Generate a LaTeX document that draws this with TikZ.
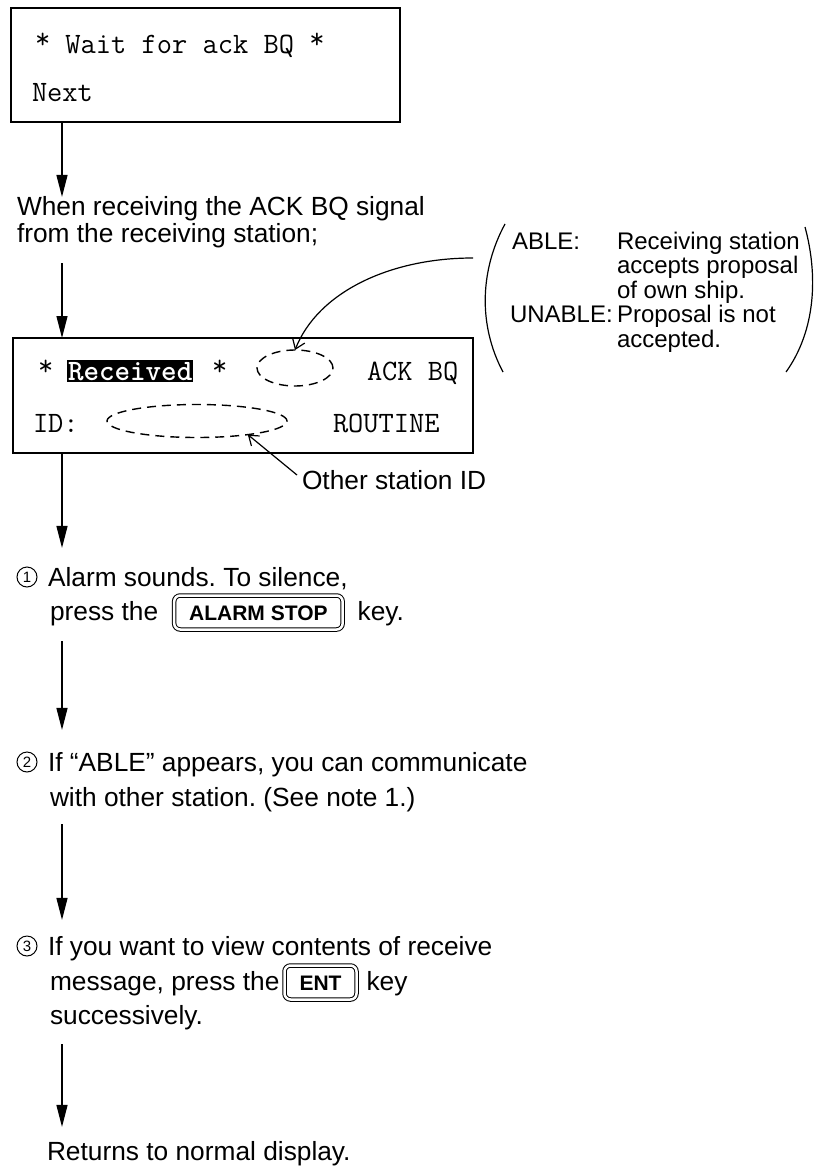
\documentclass[tikz,border=0pt]{standalone}
\usepackage{fontspec}
\setmainfont{Liberation Sans}
\usetikzlibrary{arrows.meta,shapes.geometric,calc}
\frenchspacing
\newcommand\hiast{\raisebox{5pt}{*}}

\tikzset{
  every node/.style={inner sep=0pt, outer sep=0pt},
  txt/.style={anchor=base west, font=\fontsize{26.3}{26.3}\selectfont},
  smalltxt/.style={anchor=base west, font=\fontsize{24}{24}\selectfont},
  mono/.style={anchor=base west, font=\ttfamily\fontsize{29.6}{29.6}\selectfont},
  screen/.style={draw, line width=1.4pt, anchor=north west},
  flow/.style={line width=1.3pt, -{Triangle[length=22pt,width=11pt]}},
  pointer/.style={line width=1.2pt, -{Straight Barb[length=9pt,width=13pt]}},
  dashell/.style={draw, ellipse, dash pattern=on 9pt off 6pt, line width=1.4pt},
  keycap/.style={draw, double, double distance=2.5pt, line width=1pt, rounded corners=6pt,
    anchor=base west, font=\bfseries\fontsize{21}{21}\selectfont,
    text height=15pt, text depth=0pt, inner xsep=15pt, inner ysep=9.5pt},
  circnum/.style={draw, circle, line width=1pt, minimum size=20pt, font=\fontsize{15}{15}\selectfont},
  parenline/.style={line width=1.2pt},
}

\begin{document}
\begin{tikzpicture}[x=1pt,y=-1pt]
\useasboundingbox (0,0) rectangle (815,1169);
\coordinate (col) at (62,0);

% first screen
\node[screen, minimum width=389pt, minimum height=114pt] (box1) at (11,8) {};
\node[mono] (wait) at (35,54) {\hiast{} Wait for ack BQ \hiast};
\node[mono] (next) at (32,102) {Next};

\node[txt] (when1) at (17,215) {When receiving the ACK BQ signal};
\node[txt] (when2) at (17,242) {from the receiving station;};
\draw[flow] (box1.south -| col) -- ($(when1.north -| col)+(0,1)$);

% second screen
\node[screen, minimum width=460pt, minimum height=115pt] (box2) at (13,338) {};
\draw[flow, shorten <=16pt] (when2.south -| col) -- (box2.north -| col);

\node[mono] (st1) at (38,380) {\hiast};
\node[mono, fill=black, text=white, font=\ttfamily\bfseries\fontsize{29.6}{29.6}\selectfont,
      inner xsep=1pt, inner ysep=2pt] (recv) at (67,380) {Received};
\node[mono] (st2) at (212,380) {\hiast};
\node[dashell, minimum width=76pt, minimum height=36pt] (e1) at (295,368) {};
\node[mono] (ack) at (367,380) {ACK BQ};
\node[mono] (idl) at (33,432) {ID:};
\node[dashell, minimum width=180pt, minimum height=33pt] (e2) at (197,421) {};
\node[mono] (routine) at (333,432) {ROUTINE};

% legend in parentheses
\node[smalltxt] (able) at (512,249) {ABLE:};
\node[smalltxt] (l1) at (617,249) {Receiving station};
\node[smalltxt] (l2) at (617,273.5) {accepts proposal};
\node[smalltxt] (l3) at (617,298) {of own ship.};
\node[smalltxt] (unable) at (510,322.5) {UNABLE:};
\node[smalltxt] (l4) at (617,322.5) {Proposal is not};
\node[smalltxt] (l5) at (617,347) {accepted.};
\draw[parenline] (505,224) .. controls (480,270) and (478,325) .. (503,372);
\draw[parenline] (805,227) .. controls (818,275) and (816,330) .. (786,372);

\coordinate (cs) at (473,258);
\draw[pointer] (cs) .. controls (390,258) and (318,292) .. (e1.north);

% other station ID
\node[txt] (other) at (302,489) {Other station ID};
\coordinate (os) at (297,475);
\draw[pointer] (os) -- (e2.-15);

% step 1
\node[circnum] (c1) at (27,577) {1};
\node[txt] (s1a) at (48,586) {Alarm sounds. To silence,};
\node[txt] (s1b) at (50,620) {press the};
\node[keycap] (k1) at ($(s1b.base east)+(16,0)$) {ALARM STOP};
\node[txt] (s1c) at ($(k1.base east)+(15,0)$) {key.};
\draw[flow] ($(box2.south -| col)$) -- ($(s1a.north -| col)+(0,-19)$);

% step 2
\node[circnum] (c2) at (27,762) {2};
\node[txt] (s2a) at (48,771) {If “ABLE” appears, you can communicate};
\node[txt] (s2b) at (50,806) {with other station. (See note 1.)};
\draw[flow] ($(s1b.base -| col)+(0,21)$) -- ($(s2a.north -| col)+(0,-22)$);

% step 3
\node[circnum] (c3) at (27,946) {3};
\node[txt] (s3a) at (48,955) {If you want to view contents of receive};
\node[txt] (s3b) at (50,990) {message, press the};
\node[keycap] (k2) at ($(s3b.base east)+(5,0)$) {ENT};
\node[txt] (s3c) at ($(k2.base east)+(10,0)$) {key};
\node[txt] (s3d) at (50,1024) {successively.};
\draw[flow] ($(s2b.base -| col)+(0,18)$) -- ($(s3a.north -| col)+(0,-16)$);

% end
\node[txt] (ret) at (47,1160) {Returns to normal display.};
\draw[flow] ($(s3d.base -| col)+(0,20)$) -- ($(ret.north -| col)+(0,-14)$);
\end{tikzpicture}
\end{document}
